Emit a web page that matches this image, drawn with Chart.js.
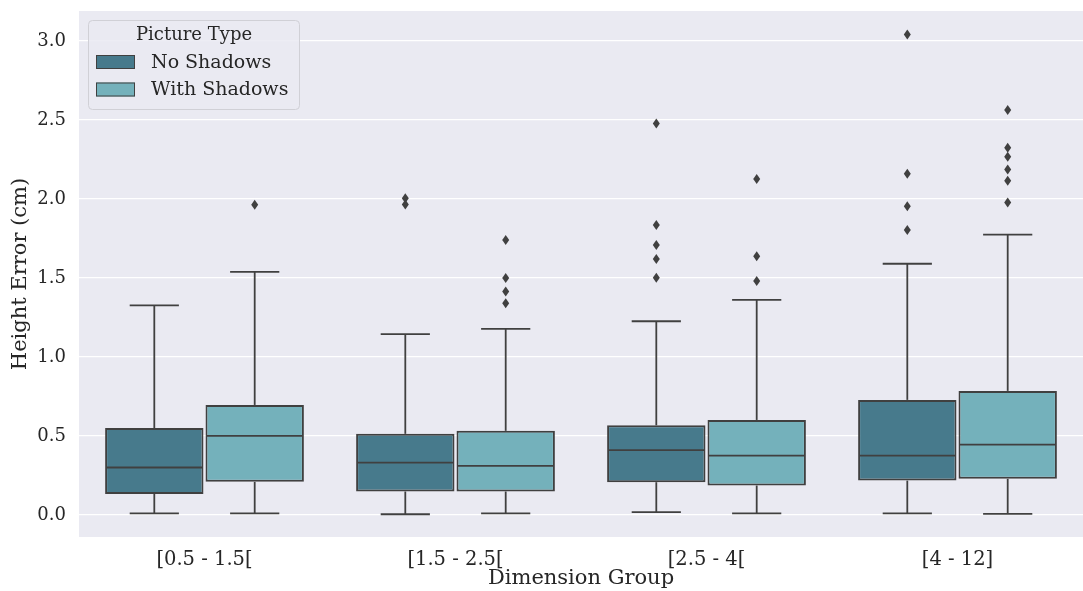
<!DOCTYPE html>
<html>
<head>
<meta charset="utf-8">
<script src="https://cdn.jsdelivr.net/npm/chart.js@4"></script>
<style>
  html, body { margin: 0; padding: 0; background: #fff; }
  #wrap { width: 1083px; height: 591px; position: relative; }
</style>
</head>
<body>
<div id="wrap"><canvas id="boxChart"></canvas></div>
<script>
// categories and series labels
const groups = ['[0.5 - 1.5[', '[1.5 - 2.5[', '[2.5 - 4[', '[4 - 12]'];
const seriesNames = ['No Shadows', 'With Shadows'];
const yTicks = [0, 0.5, 1, 1.5, 2, 2.5, 3];

// No Shadows
const noShadowLow = [0.01, 0.004, 0.017, 0.01];
const noShadowQ1 = [0.133, 0.148, 0.207, 0.217];
const noShadowMedian = [0.30, 0.331, 0.41, 0.375];
const noShadowQ3 = [0.55, 0.513, 0.567, 0.728];
const noShadowHigh = [1.327, 1.144, 1.226, 1.59];
const noShadowOutliers = [
  [],
  [2.005, 1.965],
  [2.477, 1.835, 1.709, 1.62, 1.502],
  [3.042, 2.16, 1.954, 1.804]
];

// With Shadows
const withShadowLow = [0.01, 0.01, 0.01, 0.006];
const withShadowQ1 = [0.209, 0.148, 0.186, 0.228];
const withShadowMedian = [0.50, 0.31, 0.375, 0.445];
const withShadowQ3 = [0.696, 0.532, 0.601, 0.785];
const withShadowHigh = [1.538, 1.177, 1.361, 1.774];
const withShadowOutliers = [
  [1.964],
  [1.74, 1.50, 1.414, 1.34],
  [2.127, 1.637, 1.481],
  [2.563, 2.325, 2.268, 2.186, 2.116, 1.977]
];

const boxStats = [
  { low: noShadowLow, med: noShadowMedian, high: noShadowHigh, q1: noShadowQ1, q3: noShadowQ3, out: noShadowOutliers },
  { low: withShadowLow, med: withShadowMedian, high: withShadowHigh, q1: withShadowQ1, q3: withShadowQ3, out: withShadowOutliers }
];

const fillColors = ['#477a8c', '#74b1bb'];
const lineColor = '#404040';
const serif = "'DejaVu Serif', serif";

// grey plot background
const plotBackground = {
  id: 'plotBackground',
  beforeDraw(chart) {
    const { ctx, chartArea: a } = chart;
    ctx.save();
    ctx.fillStyle = '#eaeaf2';
    ctx.fillRect(a.left, a.top, a.right - a.left, a.bottom - a.top);
    ctx.restore();
  }
};

// whiskers, medians and fliers on top of the floating bars
const boxExtras = {
  id: 'boxExtras',
  afterDatasetsDraw(chart) {
    const { ctx } = chart;
    const y = chart.scales.y;
    ctx.save();
    ctx.strokeStyle = lineColor;
    ctx.fillStyle = lineColor;
    ctx.lineWidth = 1.8;
    boxStats.forEach((s, d) => {
      const meta = chart.getDatasetMeta(d);
      meta.data.forEach((bar, i) => {
        const x = bar.x, half = bar.width / 2, cap = bar.width / 4;
        const line = (x1, y1, x2, y2) => {
          ctx.beginPath();
          ctx.moveTo(x1, y1);
          ctx.lineTo(x2, y2);
          ctx.stroke();
        };
        line(x - half + 1, y.getPixelForValue(s.med[i]), x + half - 1, y.getPixelForValue(s.med[i]));
        line(x, y.getPixelForValue(s.q3[i]), x, y.getPixelForValue(s.high[i]));
        line(x, y.getPixelForValue(s.q1[i]), x, y.getPixelForValue(s.low[i]));
        line(x - cap, y.getPixelForValue(s.high[i]), x + cap, y.getPixelForValue(s.high[i]));
        line(x - cap, y.getPixelForValue(s.low[i]), x + cap, y.getPixelForValue(s.low[i]));
        s.out[i].forEach(v => {
          const py = y.getPixelForValue(v);
          ctx.beginPath();
          ctx.moveTo(x, py - 5);
          ctx.lineTo(x + 3.5, py);
          ctx.lineTo(x, py + 5);
          ctx.lineTo(x - 3.5, py);
          ctx.closePath();
          ctx.fill();
        });
      });
    });
    ctx.restore();
  }
};

// legend box inside the plot, upper left
const innerLegend = {
  id: 'innerLegend',
  afterDraw(chart) {
    const { ctx } = chart;
    ctx.save();
    ctx.beginPath();
    ctx.roundRect(88.5, 20.5, 211, 89, 4);
    ctx.fillStyle = 'rgba(234,234,242,0.85)';
    ctx.fill();
    ctx.strokeStyle = '#d0d0d6';
    ctx.lineWidth = 1;
    ctx.stroke();

    ctx.fillStyle = '#262626';
    ctx.textAlign = 'center';
    ctx.textBaseline = 'middle';
    ctx.font = '18px ' + serif;
    ctx.fillText('Picture Type', 194, 35);

    ctx.textAlign = 'left';
    ctx.font = '19px ' + serif;
    chart.data.datasets.forEach((ds, k) => {
      const cy = 62 + k * 27.5;
      ctx.fillStyle = ds.backgroundColor;
      ctx.fillRect(96, cy - 7, 39, 14);
      ctx.strokeStyle = lineColor;
      ctx.lineWidth = 1;
      ctx.strokeRect(96.5, cy - 6.5, 38, 13);
      ctx.fillStyle = '#262626';
      ctx.fillText(ds.label, 151, cy + 1);
    });
    ctx.restore();
  }
};

new Chart(document.getElementById('boxChart'), {
  type: 'bar',
  data: {
    labels: groups,
    datasets: boxStats.map((s, d) => ({
      label: seriesNames[d],
      data: groups.map((g, i) => [s.q1[i], s.q3[i]]),
      backgroundColor: fillColors[d],
      borderColor: lineColor,
      borderWidth: 2,
      borderSkipped: false,
      categoryPercentage: 0.8,
      barPercentage: 0.98
    }))
  },
  options: {
    responsive: true,
    maintainAspectRatio: false,
    animation: false,
    layout: { padding: { top: 11, right: 0, left: 0, bottom: 0 } },
    plugins: {
      legend: { display: false },
      tooltip: { enabled: false }
    },
    scales: {
      x: {
        grid: { display: false, drawTicks: false },
        border: { display: false },
        ticks: { color: '#262626', padding: 11, font: { family: serif, size: 19.5 } },
        title: {
          display: true,
          text: 'Dimension Group',
          color: '#262626',
          padding: 0,
          font: { family: serif, size: 21 }
        },
        afterFit(scale) {
          scale.height = 54;
          scale.paddingLeft = 0;
          scale.paddingRight = 0;
        }
      },
      y: {
        min: -0.14,
        max: 3.19,
        grid: { color: '#ffffff', lineWidth: 1.3, drawTicks: false },
        border: { display: false },
        ticks: {
          color: '#262626',
          padding: 13,
          font: { family: serif, size: 18 },
          callback: v => v.toFixed(1)
        },
        afterBuildTicks(scale) {
          scale.ticks = yTicks.map(v => ({ value: v }));
        },
        title: {
          display: true,
          text: 'Height Error (cm)',
          color: '#262626',
          padding: { top: 8, bottom: 0 },
          font: { family: serif, size: 21 }
        },
        afterFit(scale) {
          scale.width = 79;
          scale.paddingTop = 0;
          scale.paddingBottom = 0;
        }
      }
    }
  },
  plugins: [plotBackground, boxExtras, innerLegend]
});
</script>
</body>
</html>
